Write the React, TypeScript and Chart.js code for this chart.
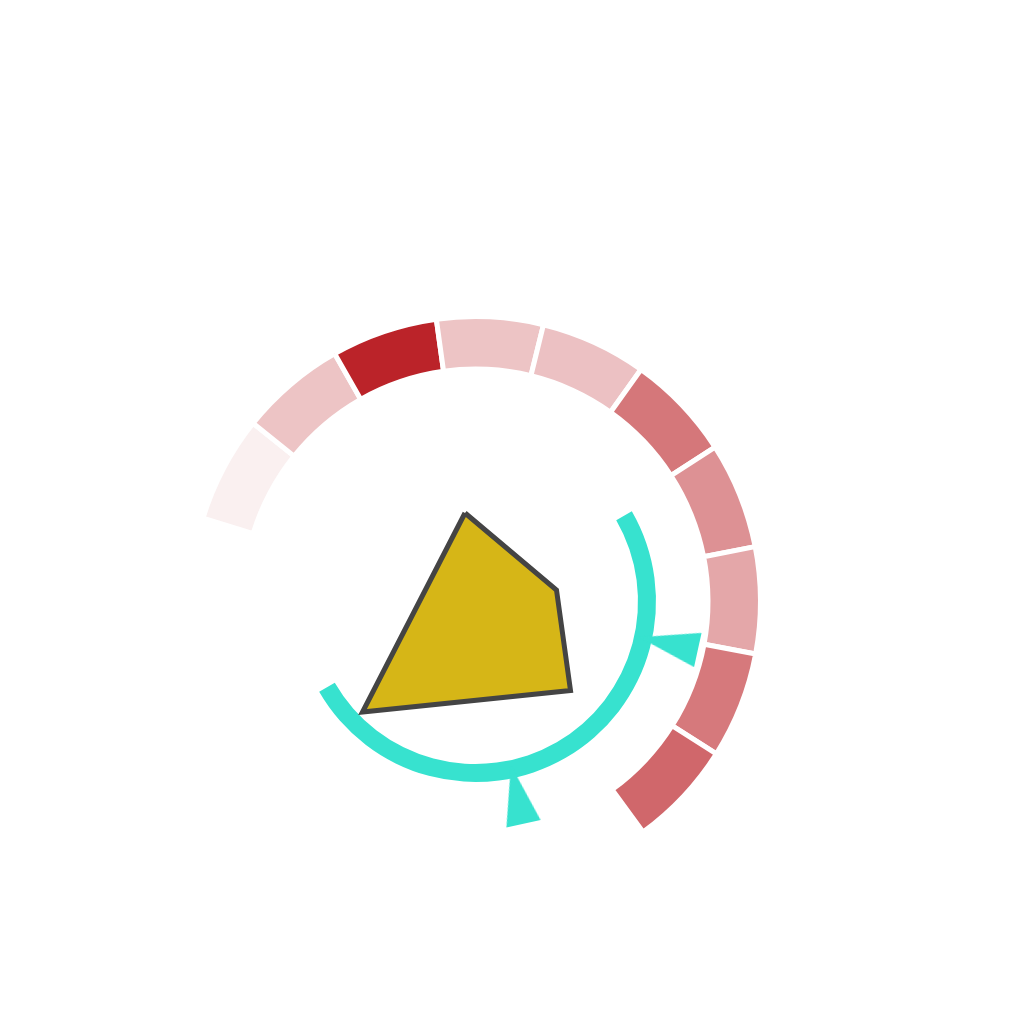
import React, { useEffect, useRef } from 'react';
import { Chart, registerables } from 'chart.js';

Chart.register(...registerables);

// ---- data ----
const ringCategories = ['C1', 'C2', 'C3', 'C4', 'C5', 'C6', 'C7', 'C8', 'C9', 'C10'];
const ringShares = [1, 1, 1, 1, 1, 1, 1, 1, 1, 1];
const ringIntensity = [0.07, 0.27, 1.0, 0.27, 0.28, 0.62, 0.5, 0.4, 0.61, 0.69];
const ringStartDeg = -73;
const ringSweepDeg = 217;

const progressValue = [1];
const progressStartDeg = 60;
const progressSweepDeg = 180;

const polygonX = [-10.5, 81, 95, -113];
const polygonY = [88.5, 11.5, -89, -110.5];

const markerX = [193.0, 41.7];
const markerY = [-42.1, -193.0];
const markerRotation = [282.3, 347.8];

// ---- styles ----
const RED = [187, 35, 41];
const TEAL = '#37E2CF';
const YELLOW = '#D6B617';
const OUTLINE = '#444444';

function blend(a: number) {
  const c = RED.map((v) => Math.round(255 - a * (255 - v)));
  return `rgb(${c[0]},${c[1]},${c[2]})`;
}

export default function App() {
  const ringRef = useRef<HTMLCanvasElement | null>(null);
  const topRef = useRef<HTMLCanvasElement | null>(null);

  useEffect(() => {
    if (!ringRef.current || !topRef.current) return;

    const ring = new Chart(ringRef.current, {
      type: 'doughnut',
      data: {
        labels: ringCategories,
        datasets: [
          {
            data: ringShares,
            backgroundColor: ringIntensity.map(blend),
            borderColor: '#ffffff',
            borderWidth: 5,
            rotation: ringStartDeg,
            circumference: ringSweepDeg,
            weight: 52.5,
          } as any,
          {
            data: [1],
            backgroundColor: 'rgba(0,0,0,0)',
            borderWidth: 0,
            rotation: 0,
            circumference: 360,
            weight: 52,
          } as any,
          {
            data: progressValue,
            backgroundColor: TEAL,
            borderWidth: 0,
            rotation: progressStartDeg,
            circumference: progressSweepDeg,
            weight: 18,
          } as any,
        ],
      },
      options: {
        responsive: false,
        animation: false,
        events: [],
        radius: 285,
        cutout: '57.0175%',
        layout: { padding: 0 },
        plugins: { legend: { display: false }, tooltip: { enabled: false } },
      } as any,
    });

    const tri = document.createElement('canvas');
    tri.width = 35;
    tri.height = 60;
    const tctx = tri.getContext('2d');
    if (tctx) {
      tctx.fillStyle = TEAL;
      tctx.beginPath();
      tctx.moveTo(17.5, 0);
      tctx.lineTo(35, 60);
      tctx.lineTo(0, 60);
      tctx.closePath();
      tctx.fill();
    }

    const polyPts = polygonX.map((x, i) => ({ x, y: polygonY[i] }));
    polyPts.push({ x: polygonX[0], y: polygonY[0] });

    const top = new Chart(topRef.current, {
      type: 'scatter',
      data: {
        datasets: [
          {
            data: polyPts,
            showLine: true,
            fill: 'shape',
            backgroundColor: YELLOW,
            borderColor: OUTLINE,
            borderWidth: 5,
            borderJoinStyle: 'miter',
            tension: 0,
            pointRadius: 0,
          } as any,
          {
            data: markerX.map((x, i) => ({ x, y: markerY[i] })),
            showLine: false,
            pointStyle: tri,
            pointRotation: markerRotation,
            pointRadius: 10,
            backgroundColor: TEAL,
            borderWidth: 0,
          } as any,
        ],
      },
      options: {
        responsive: false,
        animation: false,
        events: [],
        layout: { padding: 0, autoPadding: false },
        scales: {
          x: { type: 'linear', min: -300.5, max: 300.5, display: false },
          y: { type: 'linear', min: -300.5, max: 300.5, display: false },
        },
        plugins: { legend: { display: false }, tooltip: { enabled: false } },
      } as any,
    });

    return () => {
      ring.destroy();
      top.destroy();
    };
  }, []);

  const canvasStyle: React.CSSProperties = {
    position: 'absolute',
    left: 175,
    top: 301,
    width: 601,
    height: 601,
  };

  return (
    <div
      style={{
        position: 'fixed',
        left: 0,
        top: 0,
        width: 1024,
        height: 1024,
        background: '#ffffff',
        overflow: 'hidden',
      }}
    >
      <canvas ref={ringRef} width={601} height={601} style={canvasStyle} />
      <canvas ref={topRef} width={601} height={601} style={canvasStyle} />
    </div>
  );
}
